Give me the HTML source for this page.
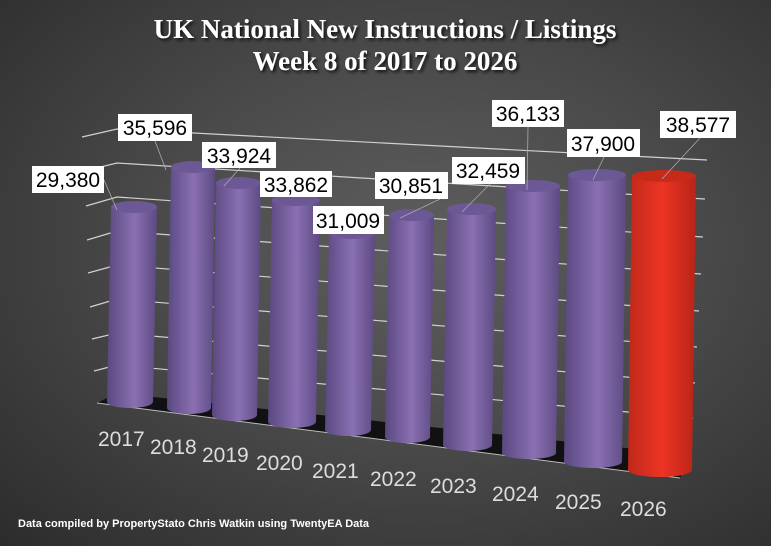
<!DOCTYPE html>
<html><head><meta charset="utf-8"><style>
html,body{margin:0;padding:0;width:771px;height:546px;overflow:hidden}
body{background:radial-gradient(ellipse at 55% 45%,#5e5e5e 0%,#4a4a4a 45%,#2c2c2c 100%)}
svg{position:absolute;left:0;top:0}
</style></head><body>
<svg width="771" height="546" viewBox="0 0 771 546" xmlns="http://www.w3.org/2000/svg">
<defs>
<linearGradient id="pu" x1="0" x2="1" y1="0" y2="0">
<stop offset="0" stop-color="#5a4880"/><stop offset="0.55" stop-color="#8a70b2"/><stop offset="1" stop-color="#5c4a82"/></linearGradient>
<linearGradient id="rd" x1="0" x2="1" y1="0" y2="0">
<stop offset="0" stop-color="#c0281a"/><stop offset="0.5" stop-color="#ec3424"/><stop offset="1" stop-color="#b82416"/></linearGradient>
<filter id="sh"><feDropShadow dx="2" dy="2" stdDeviation="1.5" flood-color="#000" flood-opacity="0.8"/></filter>
</defs>
<polygon points="97,403 117,393 690,455 680,478" fill="#111"/>
<line x1="97" y1="403" x2="680" y2="478" stroke="#bbb" stroke-width="1"/>
<g stroke="#d0d0d0" stroke-width="1.2" fill="none">
<polyline points="82,137 117,129 707,160"/>
<polyline points="84,171 117,163 705,199"/>
<polyline points="86,206 117,197 703,237"/>
<polyline points="87,240 117,231 701,274"/>
<polyline points="88,273 117,265 699,311"/>
<polyline points="90,307 117,299 697,347"/>
<polyline points="92,339 117,333 695,383"/>
<polyline points="94,371 117,365 693,418"/>
</g>
<g>
<path d="M111,207 L107,402 A23,6 0 0 0 153,402 L157,207 Z" fill="url(#pu)"/><ellipse cx="134" cy="207" rx="23" ry="6" fill="#6c5894"/>
<path d="M171,167 L167,408 A22,6 0 0 0 211,408 L215,167 Z" fill="url(#pu)"/><ellipse cx="193" cy="167" rx="22" ry="6" fill="#6c5894"/>
<path d="M216,183 L212,415 A22.5,6 0 0 0 257,415 L261,183 Z" fill="url(#pu)"/><ellipse cx="238.5" cy="183" rx="22.5" ry="6" fill="#6c5894"/>
<path d="M272,200 L268,422 A24,6 0 0 0 316,422 L320,200 Z" fill="url(#pu)"/><ellipse cx="296" cy="200" rx="24" ry="6" fill="#6c5894"/>
<path d="M329,233 L325,430 A23,6 0 0 0 371,430 L375,233 Z" fill="url(#pu)"/><ellipse cx="352" cy="233" rx="23" ry="6" fill="#6c5894"/>
<path d="M389,215 L385,437 A22.5,6 0 0 0 430,437 L434,215 Z" fill="url(#pu)"/><ellipse cx="411.5" cy="215" rx="22.5" ry="6" fill="#6c5894"/>
<path d="M447,209 L443,445 A24.5,6 0 0 0 492,445 L496,209 Z" fill="url(#pu)"/><ellipse cx="471.5" cy="209" rx="24.5" ry="6" fill="#6c5894"/>
<path d="M506,186 L502,453 A27,6 0 0 0 556,453 L560,186 Z" fill="url(#pu)"/><ellipse cx="533" cy="186" rx="27" ry="6" fill="#6c5894"/>
<path d="M568,175 L564,462 A29,6 0 0 0 622,462 L626,175 Z" fill="url(#pu)"/><ellipse cx="597" cy="175" rx="29" ry="6" fill="#6c5894"/>
<path d="M632,176 L628,470 A32,7 0 0 0 692,470 L696,176 Z" fill="url(#rd)"/><ellipse cx="664" cy="176" rx="32" ry="6" fill="#c82a1a"/>
</g>
<g stroke="#aaa" stroke-width="0.8">
<line x1="104" y1="180" x2="117" y2="210"/>
<line x1="155" y1="141" x2="166" y2="170"/>
<line x1="240" y1="168" x2="224" y2="186"/>
<line x1="440" y1="199" x2="400" y2="218"/>
<line x1="490" y1="184" x2="462" y2="212"/>
<line x1="528" y1="127" x2="527" y2="190"/>
<line x1="604" y1="157" x2="593" y2="180"/>
<line x1="700" y1="138" x2="662" y2="179"/>
</g>
<g font-family="Liberation Sans, sans-serif" font-size="21" fill="#000">
<rect x="32" y="166" width="72" height="27" fill="#fff"/><text x="68" y="187" text-anchor="middle">29,380</text>
<rect x="118" y="114" width="74" height="27" fill="#fff"/><text x="155" y="135" text-anchor="middle">35,596</text>
<rect x="202" y="142" width="74" height="26" fill="#fff"/><text x="239" y="163" text-anchor="middle">33,924</text>
<rect x="260" y="171" width="72" height="26" fill="#fff"/><text x="296" y="192" text-anchor="middle">33,862</text>
<rect x="313" y="206" width="71" height="28" fill="#fff"/><text x="348" y="228" text-anchor="middle">31,009</text>
<rect x="375" y="172" width="73" height="27" fill="#fff"/><text x="411" y="193" text-anchor="middle">30,851</text>
<rect x="452" y="157" width="73" height="27" fill="#fff"/><text x="488" y="178" text-anchor="middle">32,459</text>
<rect x="492" y="100" width="72" height="27" fill="#fff"/><text x="528" y="121" text-anchor="middle">36,133</text>
<rect x="567" y="129" width="73" height="28" fill="#fff"/><text x="603" y="151" text-anchor="middle">37,900</text>
<rect x="660" y="111" width="76" height="27" fill="#fff"/><text x="698" y="132" text-anchor="middle">38,577</text>
</g>
<g font-family="Liberation Sans, sans-serif" font-size="21" fill="#ddd">
<text x="98" y="446">2017</text><text x="150" y="454">2018</text><text x="202" y="462">2019</text>
<text x="256" y="470">2020</text><text x="312" y="478">2021</text><text x="370" y="486">2022</text>
<text x="430" y="493">2023</text><text x="492" y="501">2024</text><text x="555" y="509">2025</text>
<text x="620" y="516">2026</text>
</g>
<g font-family="Liberation Serif, serif" font-weight="bold" font-size="27" fill="#fff" text-anchor="middle" filter="url(#sh)">
<text x="385" y="38">UK National New Instructions / Listings</text>
<text x="385" y="70">Week 8 of 2017 to 2026</text>
</g>
<text x="18" y="527" font-family="Liberation Sans, sans-serif" font-weight="bold" font-size="11" fill="#fff">Data compiled by PropertyStato Chris Watkin using TwentyEA Data</text>
</svg>
</body></html>
